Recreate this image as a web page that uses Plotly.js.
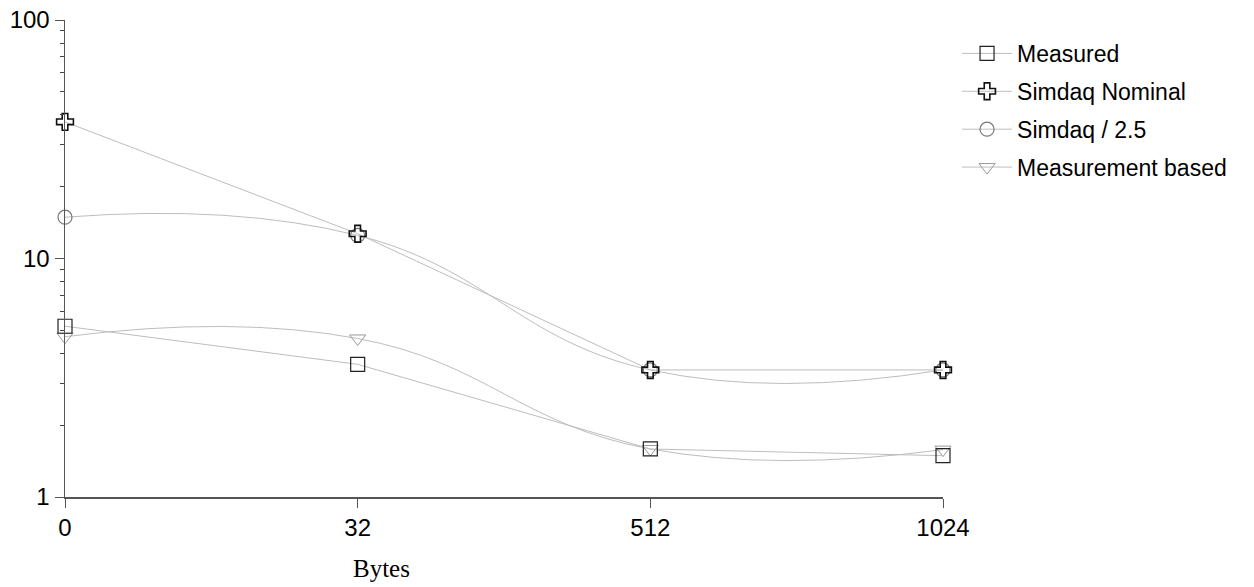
<!DOCTYPE html>
<html>
<head>
<meta charset="utf-8">
<script src="https://cdn.plot.ly/plotly-3.0.1.min.js"></script>
<style>html,body{margin:0;padding:0;background:#fff;}#chart{width:1254px;height:587px;}</style>
</head>
<body>
<div id="chart"></div>
<script>
const categories = ['0', '32', '512', '1024'];
const measured = [5.2, 3.6, 1.59, 1.49];
const simdaqNominal = [37.4, 12.7, 3.41, 3.41];
const simdaq25 = [14.9, 12.5, 3.41, 3.41];
const measurementBased = [4.7, 4.62, 1.59, 1.58];
const seriesNames = ['Measured', 'Simdaq Nominal', 'Simdaq / 2.5', 'Measurement based'];

const lineGrey = '#bdbdbd';
const traces = [
  {name: seriesNames[0], y: measured, shape: 'linear', symbol: 'square-open', mcolor: '#222', mw: 1.2},
  {name: seriesNames[1], y: simdaqNominal, shape: 'linear', symbol: 'cross-open', mcolor: '#111', mw: 1.6},
  {name: seriesNames[2], y: simdaq25, shape: 'spline', symbol: 'circle-open', mcolor: '#777', mw: 1.2},
  {name: seriesNames[3], y: measurementBased, shape: 'spline', symbol: 'triangle-down-open', mcolor: '#999', mw: 1.0}
].map((s, i) => ({
  type: 'scatter',
  mode: 'lines+markers',
  name: s.name,
  legendgroup: 'g' + i,
  legendrank: i + 1,
  x: categories,
  y: s.y,
  line: {color: lineGrey, width: 1, shape: s.shape, smoothing: 1.3},
  marker: {symbol: s.symbol, size: 14, color: s.mcolor, line: {color: s.mcolor, width: s.mw}},
  cliponaxis: false
}));
// draw cross on top
const order = [2, 3, 0, 1];
const data = order.map(i => traces[i]);

const layout = {
  width: 1254,
  height: 587,
  margin: {l: 65, r: 311, t: 20, b: 90},
  paper_bgcolor: '#fff',
  plot_bgcolor: '#fff',
  font: {family: 'Liberation Sans, Arial, sans-serif', color: '#000', size: 22},
  showlegend: true,
  legend: {
    x: 1.016, xanchor: 'left', y: 0.975, yanchor: 'top',
    traceorder: 'grouped', tracegroupgap: 5,
    itemwidth: 50,
    font: {size: 23, family: 'Liberation Sans, Arial, sans-serif', color: '#000'},
    bgcolor: 'rgba(0,0,0,0)'
  },
  xaxis: {
    type: 'category',
    categoryorder: 'array',
    categoryarray: categories,
    range: [0, 3],
    showgrid: false, zeroline: false,
    showline: true, linecolor: '#555', linewidth: 1.5,
    ticks: 'outside', ticklen: 9, tickcolor: '#555', tickwidth: 1,
    tickfont: {size: 24, family: 'Liberation Sans, Arial, sans-serif'},
    fixedrange: true
  },
  yaxis: {
    type: 'log',
    range: [0, 2],
    showgrid: false, zeroline: false,
    showline: true, linecolor: '#555', linewidth: 1.5,
    ticks: 'outside', ticklen: 9, tickcolor: '#555', tickwidth: 1,
    tickvals: [1, 10, 100],
    ticktext: ['1', '10', '100'],
    tickfont: {size: 24, family: 'Liberation Sans, Arial, sans-serif'},
    minor: {ticks: 'outside', ticklen: 4, tickcolor: '#444', tickwidth: 1,
            tickvals: [2,3,4,5,6,7,8,9,20,30,40,50,60,70,80,90], showgrid: false},
    fixedrange: true
  },
  annotations: [{
    text: 'Bytes', xref: 'paper', yref: 'paper', x: 0.36, y: -0.15,
    xanchor: 'center', yanchor: 'middle', showarrow: false,
    font: {family: 'Liberation Serif, Times New Roman, serif', size: 25, color: '#000'}
  }]
};

Plotly.newPlot('chart', data, layout, {staticPlot: true, displayModeBar: false});
</script>
</body>
</html>
